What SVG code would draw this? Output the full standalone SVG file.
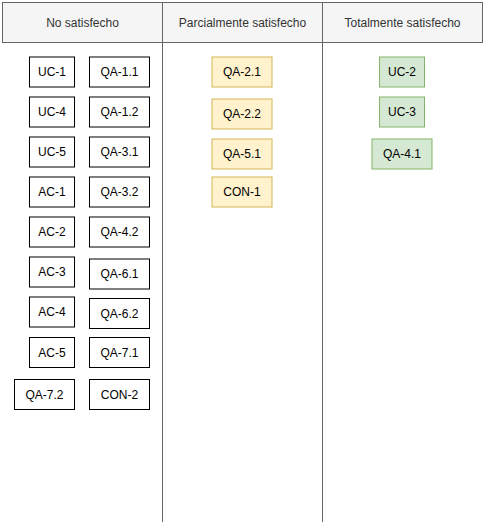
<svg xmlns="http://www.w3.org/2000/svg" width="485" height="526" viewBox="0 0 485 526">
<style>
text{font-family:"Liberation Sans",Arial,sans-serif;font-size:12px;text-anchor:middle;dominant-baseline:central}
.hdr rect{fill:#f5f5f5;stroke:#666666;stroke-width:1}
.hdr text{fill:#333333}
.lane{stroke:#666666;stroke-width:1;fill:none}
.n rect{fill:#ffffff;stroke:#000000;stroke-width:1}
.y rect{fill:#fff2cc;stroke:#d6b656;stroke-width:1}
.g rect{fill:#d5e8d4;stroke:#82b366;stroke-width:1}
.n text,.y text,.g text{fill:#000000}
</style>
<rect width="485" height="526" fill="#ffffff"/>
<g id="lanes">
<line class="lane" x1="162.5" y1="42" x2="162.5" y2="522"/>
<line class="lane" x1="322.5" y1="42" x2="322.5" y2="522"/>
</g>
<g id="header-no" class="hdr"><rect x="2.5" y="2.5" width="160" height="40"/><text x="82.5" y="22.5">No satisfecho</text></g>
<g id="header-parcial" class="hdr"><rect x="162.5" y="2.5" width="160" height="40"/><text x="242.5" y="22.5">Parcialmente satisfecho</text></g>
<g id="header-total" class="hdr"><rect x="322.5" y="2.5" width="160" height="40"/><text x="402.5" y="22.5">Totalmente satisfecho</text></g>

<g id="uc1" class="n"><rect x="29.5" y="57" width="45" height="30"/><text x="52" y="72">UC-1</text></g>
<g id="qa11" class="n"><rect x="89.5" y="57" width="60" height="30"/><text x="119.5" y="72">QA-1.1</text></g>
<g id="uc4" class="n"><rect x="29.5" y="97" width="45" height="30"/><text x="52" y="112">UC-4</text></g>
<g id="qa12" class="n"><rect x="89.5" y="97" width="60" height="30"/><text x="119.5" y="112">QA-1.2</text></g>
<g id="uc5" class="n"><rect x="29.5" y="137" width="45" height="30"/><text x="52" y="152">UC-5</text></g>
<g id="qa31" class="n"><rect x="89.5" y="137" width="60" height="30"/><text x="119.5" y="152">QA-3.1</text></g>
<g id="ac1" class="n"><rect x="29.5" y="177" width="45" height="30"/><text x="52" y="192">AC-1</text></g>
<g id="qa32" class="n"><rect x="89.5" y="177" width="60" height="30"/><text x="119.5" y="192">QA-3.2</text></g>
<g id="ac2" class="n"><rect x="29.5" y="217" width="45" height="30"/><text x="52" y="232">AC-2</text></g>
<g id="qa42" class="n"><rect x="89.5" y="217" width="60" height="30"/><text x="119.5" y="232">QA-4.2</text></g>
<g id="ac3" class="n"><rect x="29.5" y="257" width="45" height="30"/><text x="52" y="272">AC-3</text></g>
<g id="qa61" class="n"><rect x="89.5" y="259" width="60" height="30"/><text x="119.5" y="274">QA-6.1</text></g>
<g id="ac4" class="n"><rect x="29.5" y="297" width="45" height="30"/><text x="52" y="312">AC-4</text></g>
<g id="qa62" class="n"><rect x="89.5" y="298.5" width="60" height="30"/><text x="119.5" y="313.5">QA-6.2</text></g>
<g id="ac5" class="n"><rect x="29.5" y="337.5" width="45" height="30"/><text x="52" y="352.5">AC-5</text></g>
<g id="qa71" class="n"><rect x="89.5" y="337.5" width="60" height="30"/><text x="119.5" y="352.5">QA-7.1</text></g>
<g id="qa72" class="n"><rect x="14.5" y="379.5" width="60" height="30"/><text x="44.5" y="394.5">QA-7.2</text></g>
<g id="con2" class="n"><rect x="89.5" y="379.5" width="60" height="30"/><text x="119.5" y="394.5">CON-2</text></g>

<g id="qa21" class="y"><rect x="212" y="57" width="60" height="30"/><text x="242" y="72">QA-2.1</text></g>
<g id="qa22" class="y"><rect x="212" y="99" width="60" height="30"/><text x="242" y="114">QA-2.2</text></g>
<g id="qa51" class="y"><rect x="212" y="139" width="60" height="30"/><text x="242" y="154">QA-5.1</text></g>
<g id="con1" class="y"><rect x="212" y="177" width="60" height="30"/><text x="242" y="192">CON-1</text></g>

<g id="uc2" class="g"><rect x="379.5" y="57" width="45" height="30"/><text x="402" y="72">UC-2</text></g>
<g id="uc3" class="g"><rect x="379.5" y="97" width="45" height="30"/><text x="402" y="112">UC-3</text></g>
<g id="qa41" class="g"><rect x="372" y="139" width="60" height="30"/><text x="402" y="154">QA-4.1</text></g>
</svg>
